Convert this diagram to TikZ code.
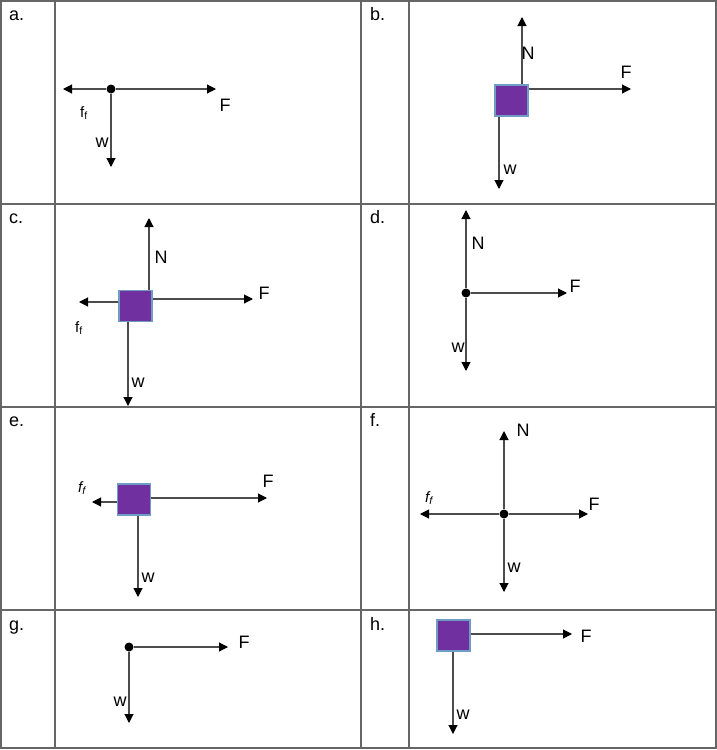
\documentclass[tikz,border=0pt]{standalone}
\usepackage{fontspec}
\setmainfont{Liberation Sans}
\usetikzlibrary{arrows.meta}

\definecolor{boxfill}{HTML}{7030A0}
\definecolor{boxline}{HTML}{6F9DC6}
\definecolor{rulegray}{HTML}{666666}

\newcommand{\fric}{{\fontsize{15}{15}\selectfont f\textsubscript{f}}}
\newcommand{\fricit}{{\fontsize{15}{15}\selectfont\itshape f\textsubscript{f}}}

\begin{document}
\begin{tikzpicture}[x=1pt,y=-1pt,
    force/.style={draw=black!70,line width=1.1pt,
      -{Triangle[length=9pt,width=9pt,color=black]}},
    dot/.style={circle,fill=black,inner sep=0pt,minimum size=9pt},
    body/.style={rectangle,fill=boxfill,draw=boxline,line width=1.3pt,
      inner sep=0pt,minimum width=33pt,minimum height=31pt},
    lbl/.style={inner sep=0pt,font=\fontsize{18}{18}\selectfont}]

      \useasboundingbox (0,0) rectangle (717,750);

      % table
      \draw[rulegray,line width=1.4pt] (1,1) rectangle (716,748);
      \foreach \x in {55,361,409}
        \draw[rulegray,line width=1.4pt] (\x,1) -- (\x,748);
      \foreach \y in {204,407,610}
        \draw[rulegray,line width=1.4pt] (1,\y) -- (716,\y);

      \begin{scope}[every node/.style={lbl,anchor=base west}]
        \node (la) at (9,20)    {a.};
        \node (lb) at (370,20)  {b.};
        \node (lc) at (9,223)   {c.};
        \node (ld) at (370,223) {d.};
        \node (le) at (9,426)   {e.};
        \node (lf) at (370,426) {f.};
        \node (lg) at (9,630)   {g.};
        \node (lh) at (370,630) {h.};
      \end{scope}

      % bodies
      \node[dot]  (a) at (111,89)    {};
      \node[body] (b) at (511.5,100.5) {};
      \node[body] (c) at (135.5,306) {};
      \node[dot]  (d) at (466,293)   {};
      \node[body] (e) at (134,499.5) {};
      \node[dot]  (f) at (504,514)   {};
      \node[dot]  (g) at (129,647)   {};
      \node[body] (h) at (453.5,635.5) {};

      % arrow tips
      \coordinate (aFf) at (63,89);
      \coordinate (aF)  at (216,89);
      \coordinate (aW)  at (111,167);
      \coordinate (bN)  at (522,17);
      \coordinate (bF)  at (631,89);
      \coordinate (bW)  at (499,189);
      \coordinate (cN)  at (149,218);
      \coordinate (cF)  at (253,299);
      \coordinate (cFf) at (79,302);
      \coordinate (cW)  at (128,406);
      \coordinate (dN)  at (466,210);
      \coordinate (dF)  at (567,293);
      \coordinate (dW)  at (466,371);
      \coordinate (eF)  at (267,498);
      \coordinate (eFf) at (92,502);
      \coordinate (eW)  at (138,597);
      \coordinate (fN)  at (504,431);
      \coordinate (fF)  at (588,514);
      \coordinate (fFf) at (420,514);
      \coordinate (fW)  at (504,592);
      \coordinate (gF)  at (228,647);
      \coordinate (gW)  at (129,723);
      \coordinate (hF)  at (572,634);
      \coordinate (hW)  at (453,734);

      \begin{scope}[every edge/.style={force}]
        \path (a) edge (aFf) (a) edge (aF) (a) edge (aW);
        \path (b.north -| bN) edge (bN)
              (b.east |- bF) edge (bF)
              (b.south -| bW) edge (bW);
        \path (c.north -| cN) edge (cN)
              (c.east |- cF) edge (cF)
              (c.west |- cFf) edge (cFf)
              (c.south -| cW) edge (cW);
        \path (d) edge (dN) (d) edge (dF) (d) edge (dW);
        \path (e.east |- eF) edge (eF)
              (e.west |- eFf) edge (eFf)
              (e.south -| eW) edge (eW);
        \path (f) edge (fN) (f) edge (fF) (f) edge (fFf) (f) edge (fW);
        \path (g) edge (gF) (g) edge (gW);
        \path (h.east |- hF) edge (hF)
              (h.south -| hW) edge (hW);
      \end{scope}

      % labels
      \begin{scope}[every node/.style={lbl}]
        \node (aFl)  at (225,105) {F};
        \node (aFfl) at (84,113)  {\fric};
        \node (aWl)  at (102,143) {w};
        \node (bNl)  at (528,53)  {N};
        \node (bFl)  at (626,72)  {F};
        \node (bWl)  at (510,170) {w};
        \node (cNl)  at (161,257) {N};
        \node (cFl)  at (264,293) {F};
        \node (cFfl) at (79,328)  {\fric};
        \node (cWl)  at (138,383) {w};
        \node (dNl)  at (478,243) {N};
        \node (dFl)  at (575,286) {F};
        \node (dWl)  at (458,348) {w};
        \node (eFfl) at (82,488)  {\fricit};
        \node (eFl)  at (268,481) {F};
        \node (eWl)  at (148,578) {w};
        \node (fNl)  at (523,430) {N};
        \node (fFfl) at (429,498) {\fricit};
        \node (fFl)  at (594,504) {F};
        \node (fWl)  at (514,568) {w};
        \node (gFl)  at (244,642) {F};
        \node (gWl)  at (120,702) {w};
        \node (hFl)  at (586,636) {F};
        \node (hWl)  at (463,715) {w};
      \end{scope}

    \end{tikzpicture}
\end{document}
